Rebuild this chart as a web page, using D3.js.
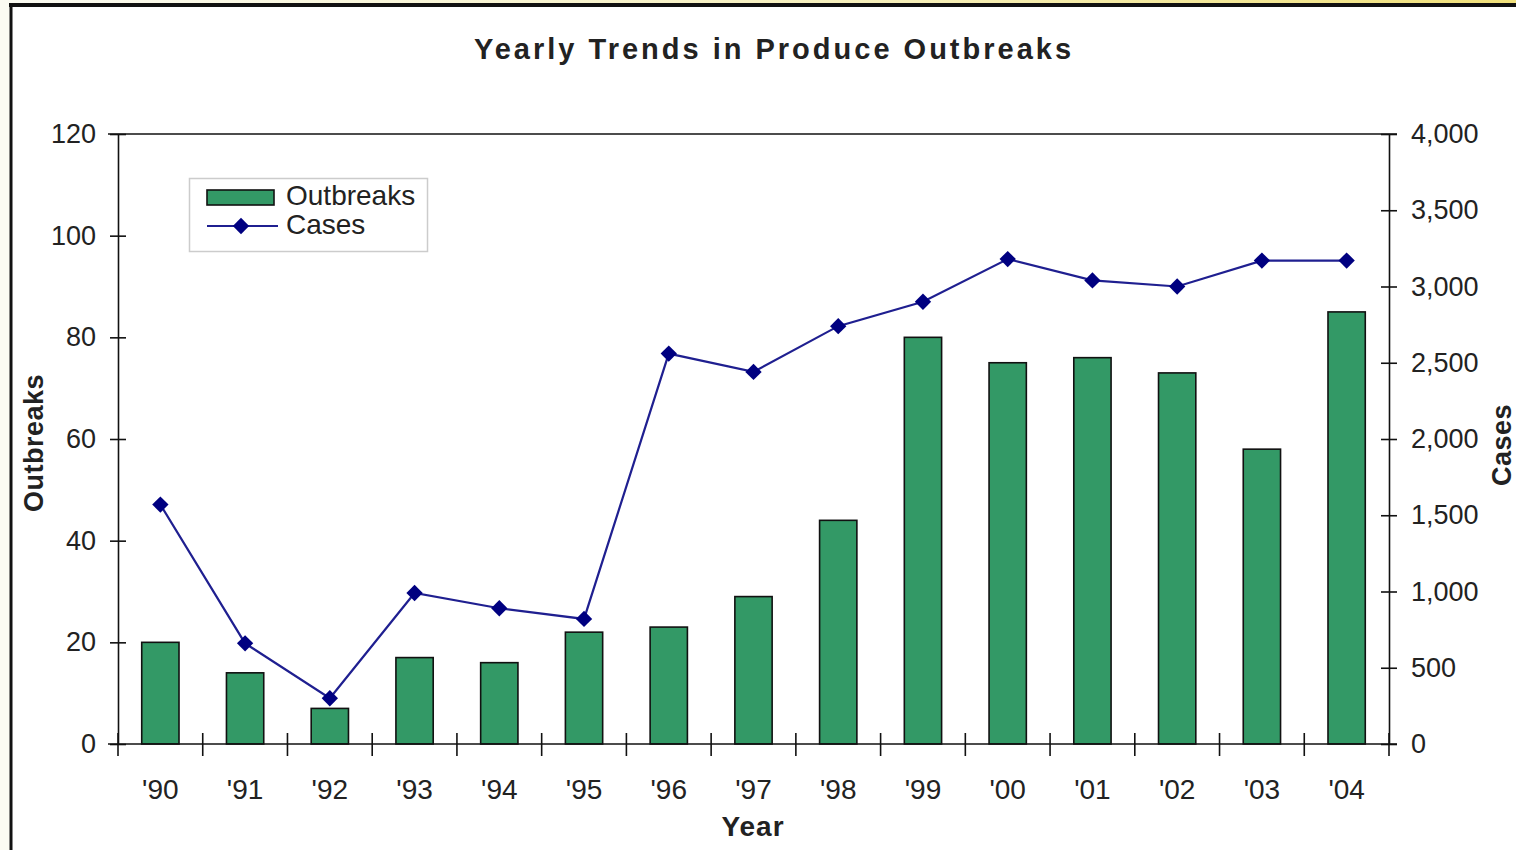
<!DOCTYPE html>
<html>
<head>
<meta charset="utf-8">
<script src="https://cdn.jsdelivr.net/npm/d3@7"></script>
<style>
  body { margin: 0; background: #fbfbf2; }
  text { font-family: "Liberation Sans", Arial, sans-serif; fill: #222; }
</style>
</head>
<body>
<div id="chart"></div>
<script>
// data
var years = ["'90", "'91", "'92", "'93", "'94", "'95", "'96", "'97", "'98", "'99", "'00", "'01", "'02", "'03", "'04"];
var outbreaks = [20, 14, 7, 17, 16, 22, 23, 29, 44, 80, 75, 76, 73, 58, 85];
var cases = [1570, 660, 300, 990, 890, 820, 2560, 2440, 2740, 2900, 3180, 3040, 3000, 3170, 3170];
var leftTicks = [0, 20, 40, 60, 80, 100, 120];
var rightTicks = [0, 500, 1000, 1500, 2000, 2500, 3000, 3500, 4000];

var W = 1516, H = 850;
var margin = {left: 118, right: 127, top: 134, bottom: 106};
var width = W - margin.left - margin.right;
var height = H - margin.top - margin.bottom;

var svg = d3.select("#chart").append("svg")
    .attr("width", W).attr("height", H);

// page frame
var grad = svg.append("defs").append("linearGradient").attr("id", "topg");
grad.append("stop").attr("offset", "0%").attr("stop-color", "#fbfbf2");
grad.append("stop").attr("offset", "60%").attr("stop-color", "#f6efb8");
grad.append("stop").attr("offset", "100%").attr("stop-color", "#f0e07a");
svg.append("rect").attr("x", 0).attr("y", 0).attr("width", W).attr("height", 3).attr("fill", "url(#topg)");
svg.append("rect").attr("x", 10).attr("y", 4).attr("width", W - 10).attr("height", H - 4)
    .attr("fill", "#fff");
svg.append("line").attr("x1", 9).attr("x2", W).attr("y1", 5).attr("y2", 5)
    .attr("stroke", "#111").attr("stroke-width", 4);
svg.append("line").attr("x1", 11).attr("x2", 11).attr("y1", 3).attr("y2", H)
    .attr("stroke", "#111").attr("stroke-width", 3);

var g = svg.append("g").attr("transform", "translate(" + margin.left + "," + margin.top + ")");

var x = d3.scaleBand().domain(years).range([0, width]).paddingInner(0).paddingOuter(0);
var yL = d3.scaleLinear().domain([0, 120]).range([height, 0]);
var yR = d3.scaleLinear().domain([0, 4000]).range([height, 0]);

// bars
var barW = x.bandwidth() * 0.44;
g.selectAll("rect.bar").data(outbreaks).enter().append("rect")
    .attr("class", "bar")
    .attr("x", function(d, i) { return x(years[i]) + (x.bandwidth() - barW) / 2; })
    .attr("y", function(d) { return yL(d); })
    .attr("width", barW)
    .attr("height", function(d) { return height - yL(d); })
    .attr("fill", "#339966")
    .attr("stroke", "#111")
    .attr("stroke-width", 1.6);

// top border of plot area
g.append("line").attr("x1", -10).attr("x2", width + 8).attr("y1", 0).attr("y2", 0)
    .attr("stroke", "#111").attr("stroke-width", 1.3);

// axes
var fs = "27px";
var axL = g.append("g")
    .call(d3.axisLeft(yL).tickValues(leftTicks).tickSizeInner(8).tickSizeOuter(0).tickPadding(14));
axL.selectAll(".tick line").attr("x2", 8).attr("x1", -8);
axL.selectAll("text").style("font-size", fs).attr("fill", "#222");

var axR = g.append("g").attr("transform", "translate(" + width + ",0)")
    .call(d3.axisRight(yR).tickValues(rightTicks).tickSizeInner(8).tickSizeOuter(0).tickPadding(14)
      .tickFormat(d3.format(",")));
axR.selectAll(".tick line").attr("x1", -8).attr("x2", 8);
axR.selectAll("text").style("font-size", fs).attr("fill", "#222");

var axB = g.append("g").attr("transform", "translate(0," + height + ")")
    .call(d3.axisBottom(x).tickSize(0).tickPadding(35));
axB.selectAll("text").style("font-size", "28px").attr("fill", "#222");
axB.select(".domain").attr("d", "M-10,0H" + (width + 8));
// category boundary ticks
var bounds = years.map(function(d) { return x(d); }).concat([width]);
axB.selectAll("line.bt").data(bounds).enter().append("line")
    .attr("class", "bt")
    .attr("x1", function(d) { return d; }).attr("x2", function(d) { return d; })
    .attr("y1", -11).attr("y2", 12)
    .attr("stroke", "#111").attr("stroke-width", 1.6);

[axL, axR, axB].forEach(function(a) {
  a.selectAll(".domain, .tick line").attr("stroke", "#111").attr("stroke-width", 1.6);
});

// cases line
var line = d3.line()
    .x(function(d, i) { return x(years[i]) + x.bandwidth() / 2; })
    .y(function(d) { return yR(d); });
g.append("path").datum(cases)
    .attr("d", line)
    .attr("fill", "none")
    .attr("stroke", "#1f1f90")
    .attr("stroke-width", 2.2);
var diamond = d3.symbol().type(d3.symbolDiamond2).size(170);
g.selectAll("path.pt").data(cases).enter().append("path")
    .attr("class", "pt")
    .attr("d", diamond)
    .attr("transform", function(d, i) {
      return "translate(" + (x(years[i]) + x.bandwidth() / 2) + "," + yR(d) + ")";
    })
    .attr("fill", "#000080");

// titles
svg.append("text").attr("x", 774).attr("y", 59).attr("text-anchor", "middle")
    .style("font-size", "29px").style("font-weight", "bold").style("letter-spacing", "3px")
    .text("Yearly Trends in Produce Outbreaks");
svg.append("text").attr("x", 753).attr("y", 836).attr("text-anchor", "middle")
    .style("font-size", "28px").style("font-weight", "bold").style("letter-spacing", "1px")
    .text("Year");
svg.append("text").attr("transform", "translate(43,443) rotate(-90)").attr("text-anchor", "middle")
    .style("font-size", "27px").style("font-weight", "bold").style("letter-spacing", "0.5px")
    .text("Outbreaks");
svg.append("text").attr("transform", "translate(1511,445) rotate(-90)").attr("text-anchor", "middle")
    .style("font-size", "27px").style("font-weight", "bold").style("letter-spacing", "0.5px")
    .text("Cases");

// legend
var lg = svg.append("g");
lg.append("rect").attr("x", 189.5).attr("y", 178.5).attr("width", 238).attr("height", 73)
    .attr("fill", "#fff").attr("stroke", "#ccc").attr("stroke-width", 1.5);
lg.append("rect").attr("x", 207).attr("y", 190).attr("width", 67).attr("height", 15)
    .attr("fill", "#339966").attr("stroke", "#111").attr("stroke-width", 1.6);
lg.append("text").attr("x", 286).attr("y", 205).style("font-size", "28px").text("Outbreaks");
lg.append("line").attr("x1", 207).attr("x2", 278).attr("y1", 226).attr("y2", 226)
    .attr("stroke", "#1f1f90").attr("stroke-width", 2.2);
lg.append("path").attr("d", diamond).attr("transform", "translate(241,226)").attr("fill", "#000080");
lg.append("text").attr("x", 286).attr("y", 234).style("font-size", "28px").text("Cases");
</script>
</body>
</html>
